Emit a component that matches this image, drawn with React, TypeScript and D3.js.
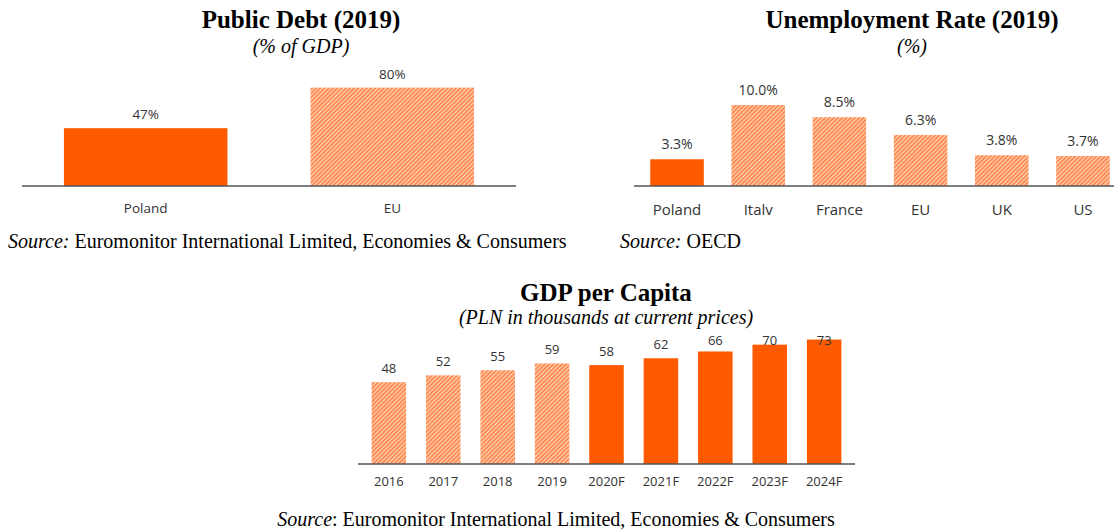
import React from "react";
import * as d3 from "d3";

const debtCategories = ["Poland", "EU"];
const debtValues = [47, 80];
const debtLabels = ["47%", "80%"];
const debtHatched = [false, true];

const unempCategories = ["Poland", "Italv", "France", "EU", "UK", "US"];
const unempValues = [3.3, 10.0, 8.5, 6.3, 3.8, 3.7];
const unempLabels = ["3.3%", "10.0%", "8.5%", "6.3%", "3.8%", "3.7%"];
const unempHatched = [false, true, true, true, true, true];

const gdpCategories = ["2016", "2017", "2018", "2019", "2020F", "2021F", "2022F", "2023F", "2024F"];
const gdpValues = [48, 52, 55, 59, 58, 62, 66, 70, 73];
const gdpHatched = [true, true, true, true, false, false, false, false, false];

const ORANGE = "#FF5A00";
const SANS = "'Open Sans', 'Noto Sans', sans-serif";
const SERIF = "'Liberation Serif', 'Times New Roman', serif";

type PanelProps = {
  cats: string[];
  vals: number[];
  labels: string[];
  hatched: boolean[];
  x0: number;
  x1: number;
  axisY: number;
  pxPerUnit: number;
  padInner: number;
  padOuter: number;
  labelGap: number;
  labelMinY?: number;
  catY: number;
  fontSize: number;
  labelFont: number;
};

function Panel(p: PanelProps) {
  const x = d3.scaleBand<string>().domain(p.cats).range([p.x0, p.x1]).paddingInner(p.padInner).paddingOuter(p.padOuter);
  const maxV = d3.max(p.vals) as number;
  const y = d3.scaleLinear().domain([0, maxV]).range([p.axisY, p.axisY - maxV * p.pxPerUnit]);
  return (
    <g>
      {p.cats.map((c, i) => {
        const top = y(p.vals[i]);
        const cx = (x(c) as number) + x.bandwidth() / 2;
        let ly = top - p.labelGap;
        if (p.labelMinY !== undefined) ly = Math.max(ly, p.labelMinY);
        return (
          <g key={c}>
            <rect
              x={x(c)}
              y={top}
              width={x.bandwidth()}
              height={p.axisY - top}
              fill={p.hatched[i] ? "url(#hatch)" : ORANGE}
            />
            <text x={cx} y={ly} textAnchor="middle" fontFamily={SANS} fontSize={p.labelFont} fill="#333">
              {p.labels[i]}
            </text>
            <text x={cx} y={p.catY} textAnchor="middle" fontFamily={SANS} fontSize={p.fontSize} fill="#333">
              {c}
            </text>
          </g>
        );
      })}
      <line x1={p.x0} x2={p.x1} y1={p.axisY} y2={p.axisY} stroke="#555" strokeWidth={1.5} />
    </g>
  );
}

export default function App() {
  return (
    <svg width={1114} height={531} style={{ position: "absolute", left: 0, top: 0, background: "#fff" }}>
      <defs>
        <pattern id="hatch" patternUnits="userSpaceOnUse" width={3} height={3} patternTransform="rotate(45)">
          <rect width={3} height={3} fill="#FFD8C2" />
          <rect width={1.7} height={3} fill="#FF8040" />
        </pattern>
      </defs>

      {/* Public Debt */}
      <text x={301} y={28} textAnchor="middle" fontFamily={SERIF} fontWeight="bold" fontSize={25}>Public Debt (2019)</text>
      <text x={301} y={53} textAnchor="middle" fontFamily={SERIF} fontStyle="italic" fontSize={20}>(% of GDP)</text>
      <Panel
        cats={debtCategories}
        vals={debtValues}
        labels={debtLabels}
        hatched={debtHatched}
        x0={22}
        x1={516}
        axisY={186}
        pxPerUnit={1.23}
        padInner={0.337}
        padOuter={0.17}
        labelGap={9}
        catY={213}
        fontSize={13.5}
        labelFont={13.5}
      />
      <text x={8} y={248} fontFamily={SERIF} fontSize={20}>
        <tspan fontStyle="italic">Source:</tspan> Euromonitor International Limited, Economies &amp; Consumers
      </text>

      {/* Unemployment */}
      <text x={912} y={28} textAnchor="middle" fontFamily={SERIF} fontWeight="bold" fontSize={25}>Unemployment Rate (2019)</text>
      <text x={912} y={53} textAnchor="middle" fontFamily={SERIF} fontStyle="italic" fontSize={20}>(%)</text>
      <Panel
        cats={unempCategories}
        vals={unempValues}
        labels={unempLabels}
        hatched={unempHatched}
        x0={634}
        x1={1126}
        axisY={186}
        pxPerUnit={8.1}
        padInner={0.34}
        padOuter={0.2}
        labelGap={10}
        catY={215}
        fontSize={15}
        labelFont={14}
      />
      <text x={620} y={248} fontFamily={SERIF} fontSize={20}>
        <tspan fontStyle="italic">Source:</tspan> OECD
      </text>

      {/* GDP per capita */}
      <text x={606} y={301} textAnchor="middle" fontFamily={SERIF} fontWeight="bold" fontSize={25}>GDP per Capita</text>
      <text x={606} y={324} textAnchor="middle" fontFamily={SERIF} fontStyle="italic" fontSize={20}>(PLN in thousands at current prices)</text>
      <Panel
        cats={gdpCategories}
        vals={gdpValues}
        labels={gdpCategories.map((_, i) => String(gdpValues[i]))}
        hatched={gdpHatched}
        x0={358}
        x1={855}
        axisY={464}
        pxPerUnit={1.705}
        padInner={0.366}
        padOuter={0.25}
        labelGap={9}
        labelMinY={345}
        catY={486}
        fontSize={13}
        labelFont={13}
      />
      <text x={556} y={526} textAnchor="middle" fontFamily={SERIF} fontSize={20}>
        <tspan fontStyle="italic">Source</tspan>: Euromonitor International Limited, Economies &amp; Consumers
      </text>
    </svg>
  );
}
